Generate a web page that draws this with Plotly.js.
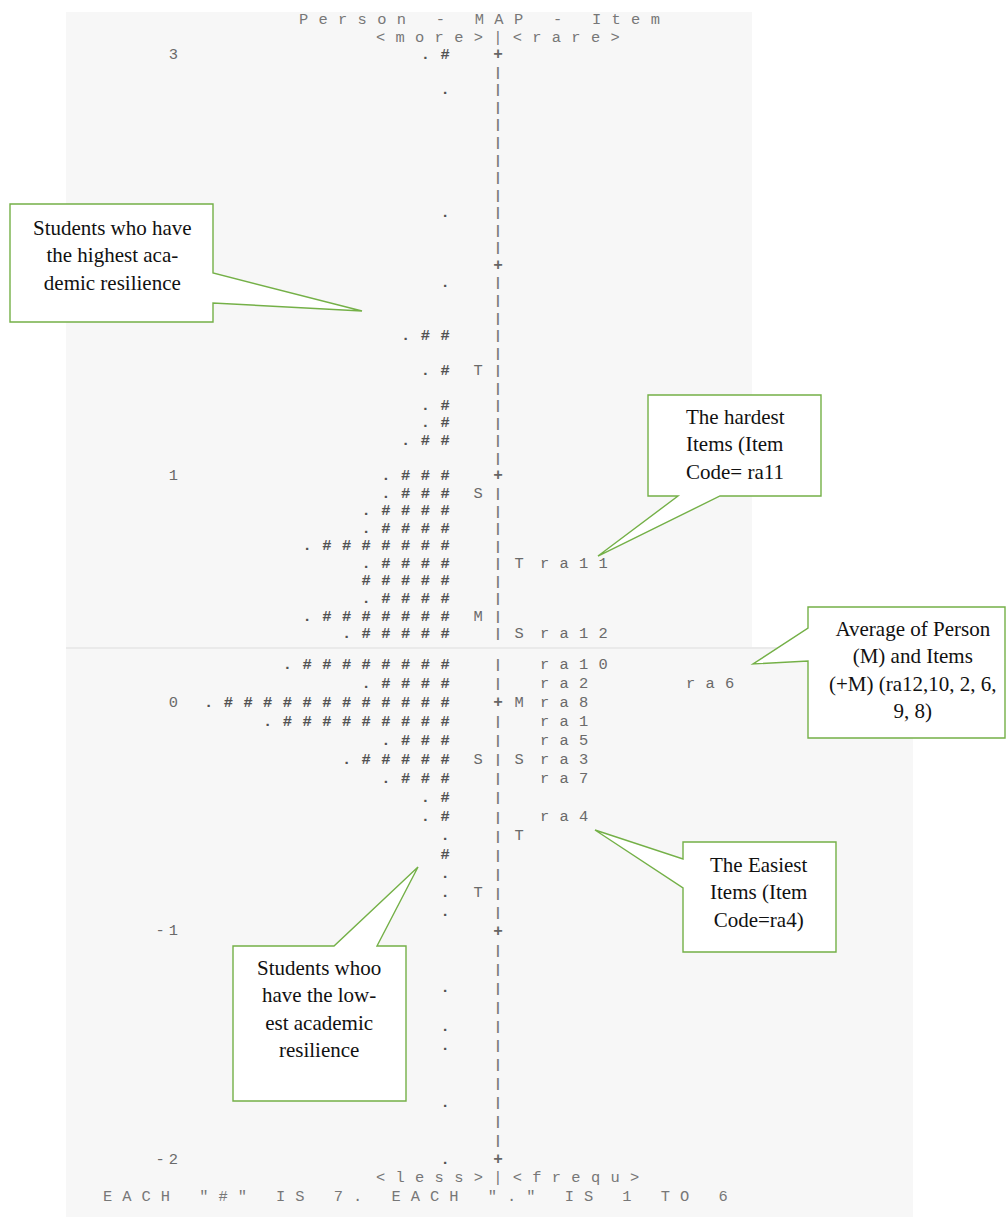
<!DOCTYPE html>
<html>
<head>
<meta charset="utf-8">
<script src="https://cdn.plot.ly/plotly-3.0.1.min.js"></script>
<style>html,body{margin:0;padding:0;background:#ffffff;}#chart{width:1006px;height:1218px;}</style>
</head>
<body>
<div id="chart"></div>
<script>
// ---------------- DATA (read from the Winsteps Person–Item map) ----------------
// Person rows: logit level, number of "#" (7 persons each) and whether a "." (1–6 persons) precedes
const personLogits = [3.000, 2.833, 2.250, 1.917, 1.667, 1.500, 1.333, 1.250, 1.167,
  1.000, 0.917, 0.833, 0.750, 0.667, 0.583, 0.500, 0.417, 0.333, 0.250,
  0.167, 0.083, 0.000, -0.083, -0.167, -0.250, -0.333, -0.417, -0.500,
  -0.583, -0.667, -0.750, -0.833, -0.917, -1.250, -1.417, -1.500, -1.750, -2.000];
const personHashes = [1,0,0,0,2,1,1,1,2, 3,3,4,4,7,4,5,4,7,5, 8,4,12,9,3,5,3,1,1, 0,1,0,0,0,0,0,0,0,0];
const personDots   = [1,1,1,1,1,1,1,1,1, 1,1,1,1,1,1,0,1,1,1, 1,1,1,1,1,1,1,1,1, 1,0,1,1,1,1,1,1,1,1];

// Items: code and difficulty (logits)
const itemNames  = ['ra11','ra12','ra10','ra2','ra6','ra8','ra1','ra5','ra3','ra7','ra4'];
const itemLogits = [0.583, 0.250, 0.167, 0.083, 0.083, 0.000, -0.083, -0.167, -0.250, -0.333, -0.500];

// M / S / T markers (mean, 1 SD, 2 SD) for persons (left of bar) and items (right of bar)
const personMarkLogits = [1.500, 0.917, 0.333, -0.250, -0.833];
const personMarks      = ['T', 'S', 'M', 'S', 'T'];
const itemMarkLogits   = [0.583, 0.250, 0.000, -0.250, -0.583];
const itemMarks        = ['T', 'S', 'M', 'S', 'T'];

// Logit axis ticks (the "2" label is hidden under a callout in the original)
const axisTicks  = [3, 2, 1, 0, -1, -2];
const axisLabels = ['3', '', '1', '0', '-1', '-2'];
const rowsPerLogit = 12;

// ---------------- LAYOUT / STYLE ----------------
const W = 1006, H = 1218;
const TOP = {y0: 12, y1: 647, Lpy: 55, ppl: 210.6, L: 3};     // upper screenshot panel
const BOT = {y0: 647, y1: 1217, Lpy: 703, ppl: 228.5, L: 0};  // lower screenshot panel
const rangeFor = p => [p.L - (p.y1 - p.Lpy) / p.ppl, p.L + (p.Lpy - p.y0) / p.ppl];
const domainFor = p => [1 - p.y1 / H, 1 - p.y0 / H];
const SPLIT = 0.2;   // rows above this level belong to the upper panel, below to the lower one

const MONO = 'Liberation Mono, Courier New, monospace';
const SERIF = 'Liberation Serif, Times New Roman, serif';
const GRAY = '#6a6a6a';
const DARK = '#525252';
const GREEN = '#74b047';
const FS = 15.4;
const LS = 10.3;
const sp = (s, ls) => '<span style="letter-spacing:' + ls + 'px">' + s + '</span>';

const TICK_RIGHT = 178, PERSON_LAST_X = 445, PERSON_PITCH = 19.7, PERSON_MARK_X = 478, BAR_X = 498,
      ITEM_MARK_X = 519, ITEM_LEFT = 540, ITEM_COL_GAP = 146;

// bar rows (scaffold of the text map: one row per 1/12 logit)
const barRows = [];
for (let k = 0; k <= 5 * rowsPerLogit; k++) barRows.push(axisTicks[0] - k / rowsPerLogit);
const isTick = v => Math.abs(v - Math.round(v)) < 1e-6;

// person symbols: one text mark per "." / "#", right-aligned against the bar
const symX = [], symY = [], symT = [];
personLogits.forEach((v, i) => {
  const syms = (personDots[i] ? ['.'] : []).concat(Array(personHashes[i]).fill('#'));
  syms.forEach((s, j) => {
    symX.push(PERSON_LAST_X - (syms.length - 1 - j) * PERSON_PITCH);
    symY.push(v); symT.push(s);
  });
});
const itemCol = itemLogits.map((v, i) => itemLogits.slice(0, i).filter(w => w === v).length);
const itemX = itemCol.map(c => ITEM_LEFT + c * ITEM_COL_GAP);

function mapTraces(yaxis, inPanel) {
  const base = {type: 'scatter', mode: 'text', xaxis: 'x', yaxis: yaxis, hoverinfo: 'skip', cliponaxis: true};
  const f = (c, s, w) => ({family: MONO, size: s || FS, color: c || GRAY, weight: w || 'normal'});
  const out = [];
  const add = (xs, ys, texts, pos, font) => {
    const idx = ys.map((v, i) => i).filter(i => inPanel(ys[i]) && texts[i] !== '');
    if (!idx.length) return;
    out.push(Object.assign({}, base, {x: idx.map(i => xs[i]), y: idx.map(i => ys[i]),
      text: idx.map(i => texts[i]), textposition: pos, textfont: font}));
  };
  add(axisTicks.map(() => TICK_RIGHT + 4), axisTicks, axisLabels.map(s => s ? sp(s, 4) : ''), 'middle left', f());
  add(symX, symY, symT, 'middle center', f(DARK, FS, 'bold'));
  const ticks = barRows.filter(isTick), bars = barRows.filter(v => !isTick(v));
  add(ticks.map(() => BAR_X), ticks, ticks.map(() => '+'), 'middle center', f('#666666', 16, 'bold'));
  add(bars.map(() => BAR_X), bars, bars.map(() => '|'), 'middle center', f('#7a7a7a', 13, 'bold'));
  add(personMarkLogits.map(() => PERSON_MARK_X), personMarkLogits, personMarks, 'middle center', f());
  add(itemMarkLogits.map(() => ITEM_MARK_X), itemMarkLogits, itemMarks, 'middle center', f());
  add(itemX, itemLogits, itemNames.map(s => sp(s, LS)), 'middle right', f());
  return out;
}
const data = mapTraces('y', v => v > SPLIT).concat(mapTraces('y2', v => v < SPLIT));

// helpers for paper-space decorations
const px = x => x / W, py = y => 1 - y / H;
const path = pts => 'M ' + pts.map(p => px(p[0]).toFixed(5) + ',' + py(p[1]).toFixed(5)).join(' L ') + ' Z';

const callouts = [
  {pts: [[10,204],[213,204],[213,273],[362,311],[213,303],[213,322],[10,322]],
   text: 'Students who have<br>the highest aca-<br>demic resilience', x: 112, y: 255, align: 'center'},
  {pts: [[648,395],[821,395],[821,496],[720,496],[598,556],[678,496],[648,496]],
   text: 'The hardest<br>Items (Item<br>Code= ra11', x: 684, y: 445, align: 'left'},
  {pts: [[808,607],[1005,607],[1005,738],[808,738],[808,661],[753,664],[808,628]],
   text: 'Average of Person<br>(M) and Items<br>(+M) (ra12,10, 2, 6,<br>9, 8)', x: 913, y: 670, align: 'center'},
  {pts: [[683,842],[836,842],[836,952],[683,952],[683,888],[595,830],[683,859]],
   text: 'The Easiest<br>Items (Item<br>Code=ra4)', x: 759, y: 892, align: 'center'},
  {pts: [[233,946],[334,946],[418,867],[377,946],[406,946],[406,1101],[233,1101]],
   text: 'Students whoo<br>have the low-<br>est academic<br>resilience', x: 319, y: 1009, align: 'center'}
];

const shapes = [
  {type: 'rect', xref: 'paper', yref: 'paper', x0: px(66), x1: px(752), y0: py(647), y1: py(12),
   fillcolor: '#f7f7f7', line: {width: 0}, layer: 'below'},
  {type: 'rect', xref: 'paper', yref: 'paper', x0: px(66), x1: px(913), y0: py(1217), y1: py(647),
   fillcolor: '#f7f7f7', line: {width: 0}, layer: 'below'},
  {type: 'line', xref: 'paper', yref: 'paper', x0: px(66), x1: px(913), y0: py(648), y1: py(648),
   line: {color: '#e6e6e6', width: 1.5}, layer: 'below'}
].concat(callouts.map(c => ({type: 'path', xref: 'paper', yref: 'paper', path: path(c.pts),
   fillcolor: '#ffffff', line: {color: GREEN, width: 1.4}, layer: 'above'})));

const mono = () => ({family: MONO, size: FS, color: '#777777'});
const annotations = [
  {text: sp('Person - MAP - Item', LS), x: px(297), y: py(20), xanchor: 'left', yanchor: 'middle', font: mono()},
  {text: sp('&lt;more&gt;|&lt;rare&gt;', LS), x: px(374), y: py(38), xanchor: 'left', yanchor: 'middle', font: mono()},
  {text: sp('&lt;less&gt;|&lt;frequ&gt;', LS), x: px(374), y: py(1178), xanchor: 'left', yanchor: 'middle', font: mono()},
  {text: sp('EACH "#" IS 7. EACH "." IS 1 TO 6', 10.0), x: px(101), y: py(1197), xanchor: 'left', yanchor: 'middle', font: mono()}
].map(a => Object.assign({xref: 'paper', yref: 'paper', showarrow: false}, a))
 .concat(callouts.map(c => ({xref: 'paper', yref: 'paper', showarrow: false, text: c.text,
   x: px(c.x), y: py(c.y), xanchor: c.align === 'left' ? 'left' : 'center', yanchor: 'middle', align: c.align,
   font: {family: SERIF, size: 21, color: '#111111'}})));

const layout = {
  width: W, height: H, margin: {l: 0, r: 0, t: 0, b: 0, pad: 0},
  paper_bgcolor: '#ffffff', plot_bgcolor: 'rgba(0,0,0,0)', showlegend: false,
  xaxis: {domain: [0, 1], range: [0, W], visible: false, fixedrange: true},
  yaxis: {domain: domainFor(TOP), range: rangeFor(TOP), visible: false, fixedrange: true},
  yaxis2: {domain: domainFor(BOT), range: rangeFor(BOT), visible: false, fixedrange: true, anchor: 'x'},
  shapes: shapes, annotations: annotations
};

Plotly.newPlot('chart', data, layout, {displayModeBar: false, staticPlot: true});
</script>
</body>
</html>
